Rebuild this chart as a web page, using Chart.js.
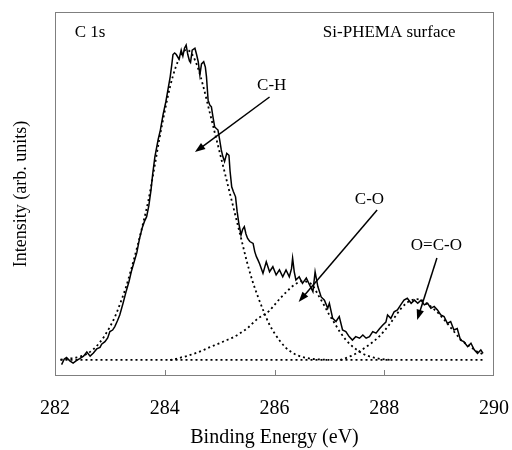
<!DOCTYPE html>
<html>
<head>
<meta charset="utf-8">
<script src="https://cdn.jsdelivr.net/npm/chart.js@4.4.1/dist/chart.umd.min.js"></script>
<style>
  html, body { margin: 0; padding: 0; background: #fff; }
  #wrap { width: 512px; height: 450px; }
</style>
</head>
<body>
<div id="wrap"><canvas id="xps"></canvas></div>
<script>
// measured C 1s spectrum (binding energy in eV, intensity in arb. units)
const specEnergy = [
  282.12, 282.17, 282.21, 282.27, 282.33, 282.39, 282.45, 282.52, 282.58, 282.64,
  282.70, 282.76, 282.82, 282.85, 282.91, 282.96, 283.00, 283.05, 283.09, 283.14,
  283.18, 283.24, 283.30, 283.35, 283.39, 283.44, 283.49, 283.54, 283.59, 283.63,
  283.67, 283.71, 283.75, 283.78, 283.82, 283.88, 283.92, 283.97, 284.02, 284.06,
  284.10, 284.13, 284.15, 284.18, 284.21, 284.26, 284.30, 284.33, 284.36, 284.39,
  284.42, 284.45, 284.47, 284.50, 284.55, 284.58, 284.61, 284.64, 284.67, 284.71,
  284.74, 284.76, 284.79, 284.82, 284.85, 284.88, 284.91, 284.97, 285.00, 285.03,
  285.06, 285.09, 285.13, 285.17, 285.19, 285.22, 285.25, 285.29, 285.32, 285.35,
  285.39, 285.42, 285.45, 285.48, 285.51, 285.55, 285.61, 285.64, 285.67, 285.70,
  285.73, 285.79, 285.85, 285.91, 285.97, 286.03, 286.09, 286.15, 286.21, 286.27,
  286.31, 286.33, 286.36, 286.39, 286.45, 286.51, 286.58, 286.64, 286.70, 286.74,
  286.79, 286.85, 286.91, 286.97, 287.00, 287.06, 287.12, 287.18, 287.24, 287.30,
  287.36, 287.42, 287.48, 287.55, 287.61, 287.67, 287.73, 287.79, 287.85, 287.91,
  287.97, 288.03, 288.06, 288.12, 288.18, 288.24, 288.30, 288.36, 288.42, 288.49,
  288.55, 288.61, 288.67, 288.73, 288.79, 288.85, 288.91, 288.97, 289.03, 289.09,
  289.15, 289.21, 289.27, 289.33, 289.39, 289.45, 289.52, 289.58, 289.64, 289.70,
  289.76, 289.80
];
const specIntensity = [
  -1.5, 0.3, 0.8, -0.3, -1, -0.2, 0.4, 1.2, 2.5, 1.2,
  2.2, 3.5, 4, 5, 5.8, 7, 9, 9.5, 10.6, 12.5,
  14.3, 18, 22, 25, 28, 31, 34, 38.5, 42, 44,
  45.5, 49, 54, 59, 64.5, 70, 73, 78, 82, 86,
  90, 94, 97, 97.5, 97, 95.5, 98.4, 96.5, 99, 100,
  97, 95, 94.5, 98.4, 99, 97, 94.7, 90.5, 94, 94.7,
  93, 90, 82.5, 81, 80.4, 77, 74, 73, 70, 66.7,
  64.5, 63, 65.6, 65, 60, 55, 53.5, 51.8, 47, 43.4,
  39.7, 41.5, 42.3, 40, 38.6, 37.6, 37, 34.4, 32.8, 31.7,
  30.5, 27.5, 31.2, 28, 29.6, 27, 28.6, 26.4, 28.6, 26.4,
  29, 32.3, 28, 25.4, 26.4, 24.3, 26, 23.8, 21.7, 28,
  23.3, 20, 19, 16.4, 18, 13.2, 12.2, 13.8, 9.5, 9,
  7.4, 6.3, 7.4, 6.9, 7.9, 6.9, 7.4, 9, 8.5, 9.8,
  11, 12, 14.3, 13.2, 15.3, 15.9, 17.5, 19, 19.6, 18,
  19, 18, 19, 17.5, 18, 16.4, 17, 15.9, 14.3, 13.8,
  11.6, 12.2, 9.5, 10, 6.3, 5.8, 4.2, 5.3, 3.2, 2.1,
  3.2, 2.1
];

// fitted components
const chEnergy = [
  282.1, 282.2, 282.3, 282.4, 282.5, 282.6, 282.7, 282.8, 282.9, 283.0,
  283.1, 283.2, 283.3, 283.4, 283.5, 283.6, 283.7, 283.8, 283.9, 284.0,
  284.1, 284.2, 284.3, 284.4, 284.5, 284.6, 284.7, 284.8, 284.9, 285.0,
  285.1, 285.2, 285.3, 285.4, 285.5, 285.6, 285.7, 285.8, 285.9, 286.0,
  286.1, 286.2, 286.3, 286.4, 286.5, 286.6, 286.7, 286.8, 286.9, 287.0
];
const chFit = [
  0.1, 0.3, 0.5, 0.8, 1.3, 2.1, 3.4, 5.2, 7.6, 10.5,
  14, 18.5, 23.5, 29.5, 36, 43, 50.5, 60, 70, 79,
  87, 93, 97, 98.5, 97, 93, 87, 80, 73, 66,
  59, 52, 45, 38, 31, 25, 20, 15.5, 11.5, 8.5,
  6, 4, 2.6, 1.6, 1, 0.6, 0.3, 0.2, 0.1, 0
];
const coEnergy = [
  284.1, 284.2, 284.3, 284.4, 284.5, 284.6, 284.7, 284.8, 284.9, 285.0,
  285.1, 285.2, 285.3, 285.4, 285.5, 285.6, 285.7, 285.8, 285.9, 286.0,
  286.1, 286.2, 286.3, 286.4, 286.5, 286.6, 286.7, 286.8, 286.9, 287.0,
  287.1, 287.2, 287.3, 287.4, 287.5, 287.6, 287.7, 287.8, 287.9, 288.0,
  288.1
];
const coFit = [
  0, 0.3, 0.8, 1.2, 1.8, 2.4, 3.1, 3.9, 4.6, 5.3,
  6.1, 6.8, 7.7, 8.8, 10, 11.6, 13.2, 14.3, 15.5, 17.5,
  19.5, 21.3, 23, 24.3, 25, 24.8, 23.5, 20.5, 17.5, 14.3,
  11.5, 8.7, 6.4, 4.6, 3.2, 2.1, 1.3, 0.8, 0.4, 0.2,
  0
];
const ocoEnergy = [
  287.2, 287.3, 287.4, 287.5, 287.6, 287.7, 287.8, 287.9, 288.0, 288.1,
  288.2, 288.3, 288.4, 288.5, 288.6, 288.7, 288.8, 288.9, 289.0, 289.1,
  289.2, 289.3, 289.4, 289.5, 289.6, 289.7, 289.8
];
const ocoFit = [
  0, 0.6, 1.3, 2.2, 3.3, 4.5, 5.8, 7.3, 9.2, 11.4,
  13.8, 16.2, 18, 19, 19.3, 18.8, 17.6, 16.2, 14.6, 12.6,
  10.5, 8.4, 6.4, 5, 3.8, 2.6, 1.8
];
const baseEnergy = [282.1, 289.8];
const baseFit = [0, 0];

const xTicks = [282, 284, 286, 288, 290];

// annotations: [text, energy, intensity]
const labels = [
  ['C 1s', 282.64, 104],
  ['Si-PHEMA surface', 288.09, 104],
  ['C-H', 285.95, 87.3],
  ['C-O', 287.73, 50.8],
  ['O=C-O', 288.95, 36.2],
];
// arrows: [fromE, fromI, toE, toI]
const arrows = [
  [285.91, 83.5, 284.55, 66],
  [287.87, 47.6, 286.44, 18.4],
  [288.96, 32.4, 288.6, 12.7],
];

const pts = (xs, ys) => xs.map((x, i) => ({ x, y: ys[i] }));
const FONT = '"Liberation Serif", "Times New Roman", serif';

const dotted = (data) => ({
  data,
  borderColor: '#000',
  borderWidth: 1.8,
  borderDash: [2, 3],
  pointRadius: 0,
  tension: 0.4,
  cubicInterpolationMode: 'monotone',
  fill: false,
});

const decor = {
  id: 'decor',
  afterDraw(chart) {
    const { ctx, chartArea: a, scales: { x, y } } = chart;
    ctx.save();
    // frame
    ctx.strokeStyle = '#7f7f7f';
    ctx.lineWidth = 1;
    ctx.strokeRect(a.left + 0.5, a.top + 0.5, a.right - a.left - 1, a.bottom - a.top - 1);
    // inward ticks on the bottom axis
    ctx.beginPath();
    xTicks.slice(1, -1).forEach((t) => {
      const px = Math.round(x.getPixelForValue(t)) + 0.5;
      ctx.moveTo(px, a.bottom);
      ctx.lineTo(px, a.bottom - 6);
    });
    ctx.stroke();

    ctx.fillStyle = '#000';
    ctx.font = '17px ' + FONT;
    ctx.textAlign = 'center';
    ctx.textBaseline = 'middle';
    labels.forEach(([t, e, v]) => ctx.fillText(t, x.getPixelForValue(e), y.getPixelForValue(v)));

    ctx.strokeStyle = '#000';
    ctx.lineWidth = 1.5;
    arrows.forEach(([e1, v1, e2, v2]) => {
      const x1 = x.getPixelForValue(e1), y1 = y.getPixelForValue(v1);
      const x2 = x.getPixelForValue(e2), y2 = y.getPixelForValue(v2);
      const ang = Math.atan2(y2 - y1, x2 - x1);
      ctx.beginPath();
      ctx.moveTo(x1, y1);
      ctx.lineTo(x2 - 6 * Math.cos(ang), y2 - 6 * Math.sin(ang));
      ctx.stroke();
      ctx.beginPath();
      ctx.moveTo(x2, y2);
      ctx.lineTo(x2 - 11 * Math.cos(ang - 0.35), y2 - 11 * Math.sin(ang - 0.35));
      ctx.lineTo(x2 - 11 * Math.cos(ang + 0.35), y2 - 11 * Math.sin(ang + 0.35));
      ctx.closePath();
      ctx.fill();
    });
    ctx.restore();
  },
};

new Chart(document.getElementById('xps'), {
  type: 'line',
  data: {
    datasets: [
      {
        data: pts(specEnergy, specIntensity),
        borderColor: '#000',
        borderWidth: 1.5,
        pointRadius: 0,
        tension: 0,
        fill: false,
      },
      dotted(pts(chEnergy, chFit)),
      dotted(pts(coEnergy, coFit)),
      dotted(pts(ocoEnergy, ocoFit)),
      dotted(pts(baseEnergy, baseFit)),
    ],
  },
  options: {
    responsive: true,
    maintainAspectRatio: false,
    animation: false,
    layout: { padding: { left: 10, right: 18, top: 12, bottom: 0 } },
    plugins: { legend: { display: false }, tooltip: { enabled: false } },
    scales: {
      x: {
        type: 'linear',
        min: 282,
        max: 290,
        afterBuildTicks: (s) => { s.ticks = xTicks.map((v) => ({ value: v })); },
        afterFit: (s) => { s.height = 74; s.paddingLeft = 0; s.paddingRight = 0; },
        grid: { display: false, drawTicks: false },
        border: { display: false },
        ticks: { color: '#000', padding: 21, maxRotation: 0, font: { family: FONT, size: 20 } },
        title: {
          display: true,
          text: 'Binding Energy (eV)',
          color: '#000',
          font: { family: FONT, size: 20 },
          padding: { top: 4, bottom: 0 },
        },
      },
      y: {
        min: -5.1,
        max: 110.5,
        afterFit: (s) => { s.width = 45; },
        grid: { display: false, drawTicks: false },
        border: { display: false },
        ticks: { display: false },
        title: {
          display: true,
          text: 'Intensity (arb. units)',
          color: '#000',
          font: { family: FONT, size: 18 },
          padding: { top: 0, bottom: 23 },
        },
      },
    },
  },
  plugins: [decor],
});
</script>
</body>
</html>
